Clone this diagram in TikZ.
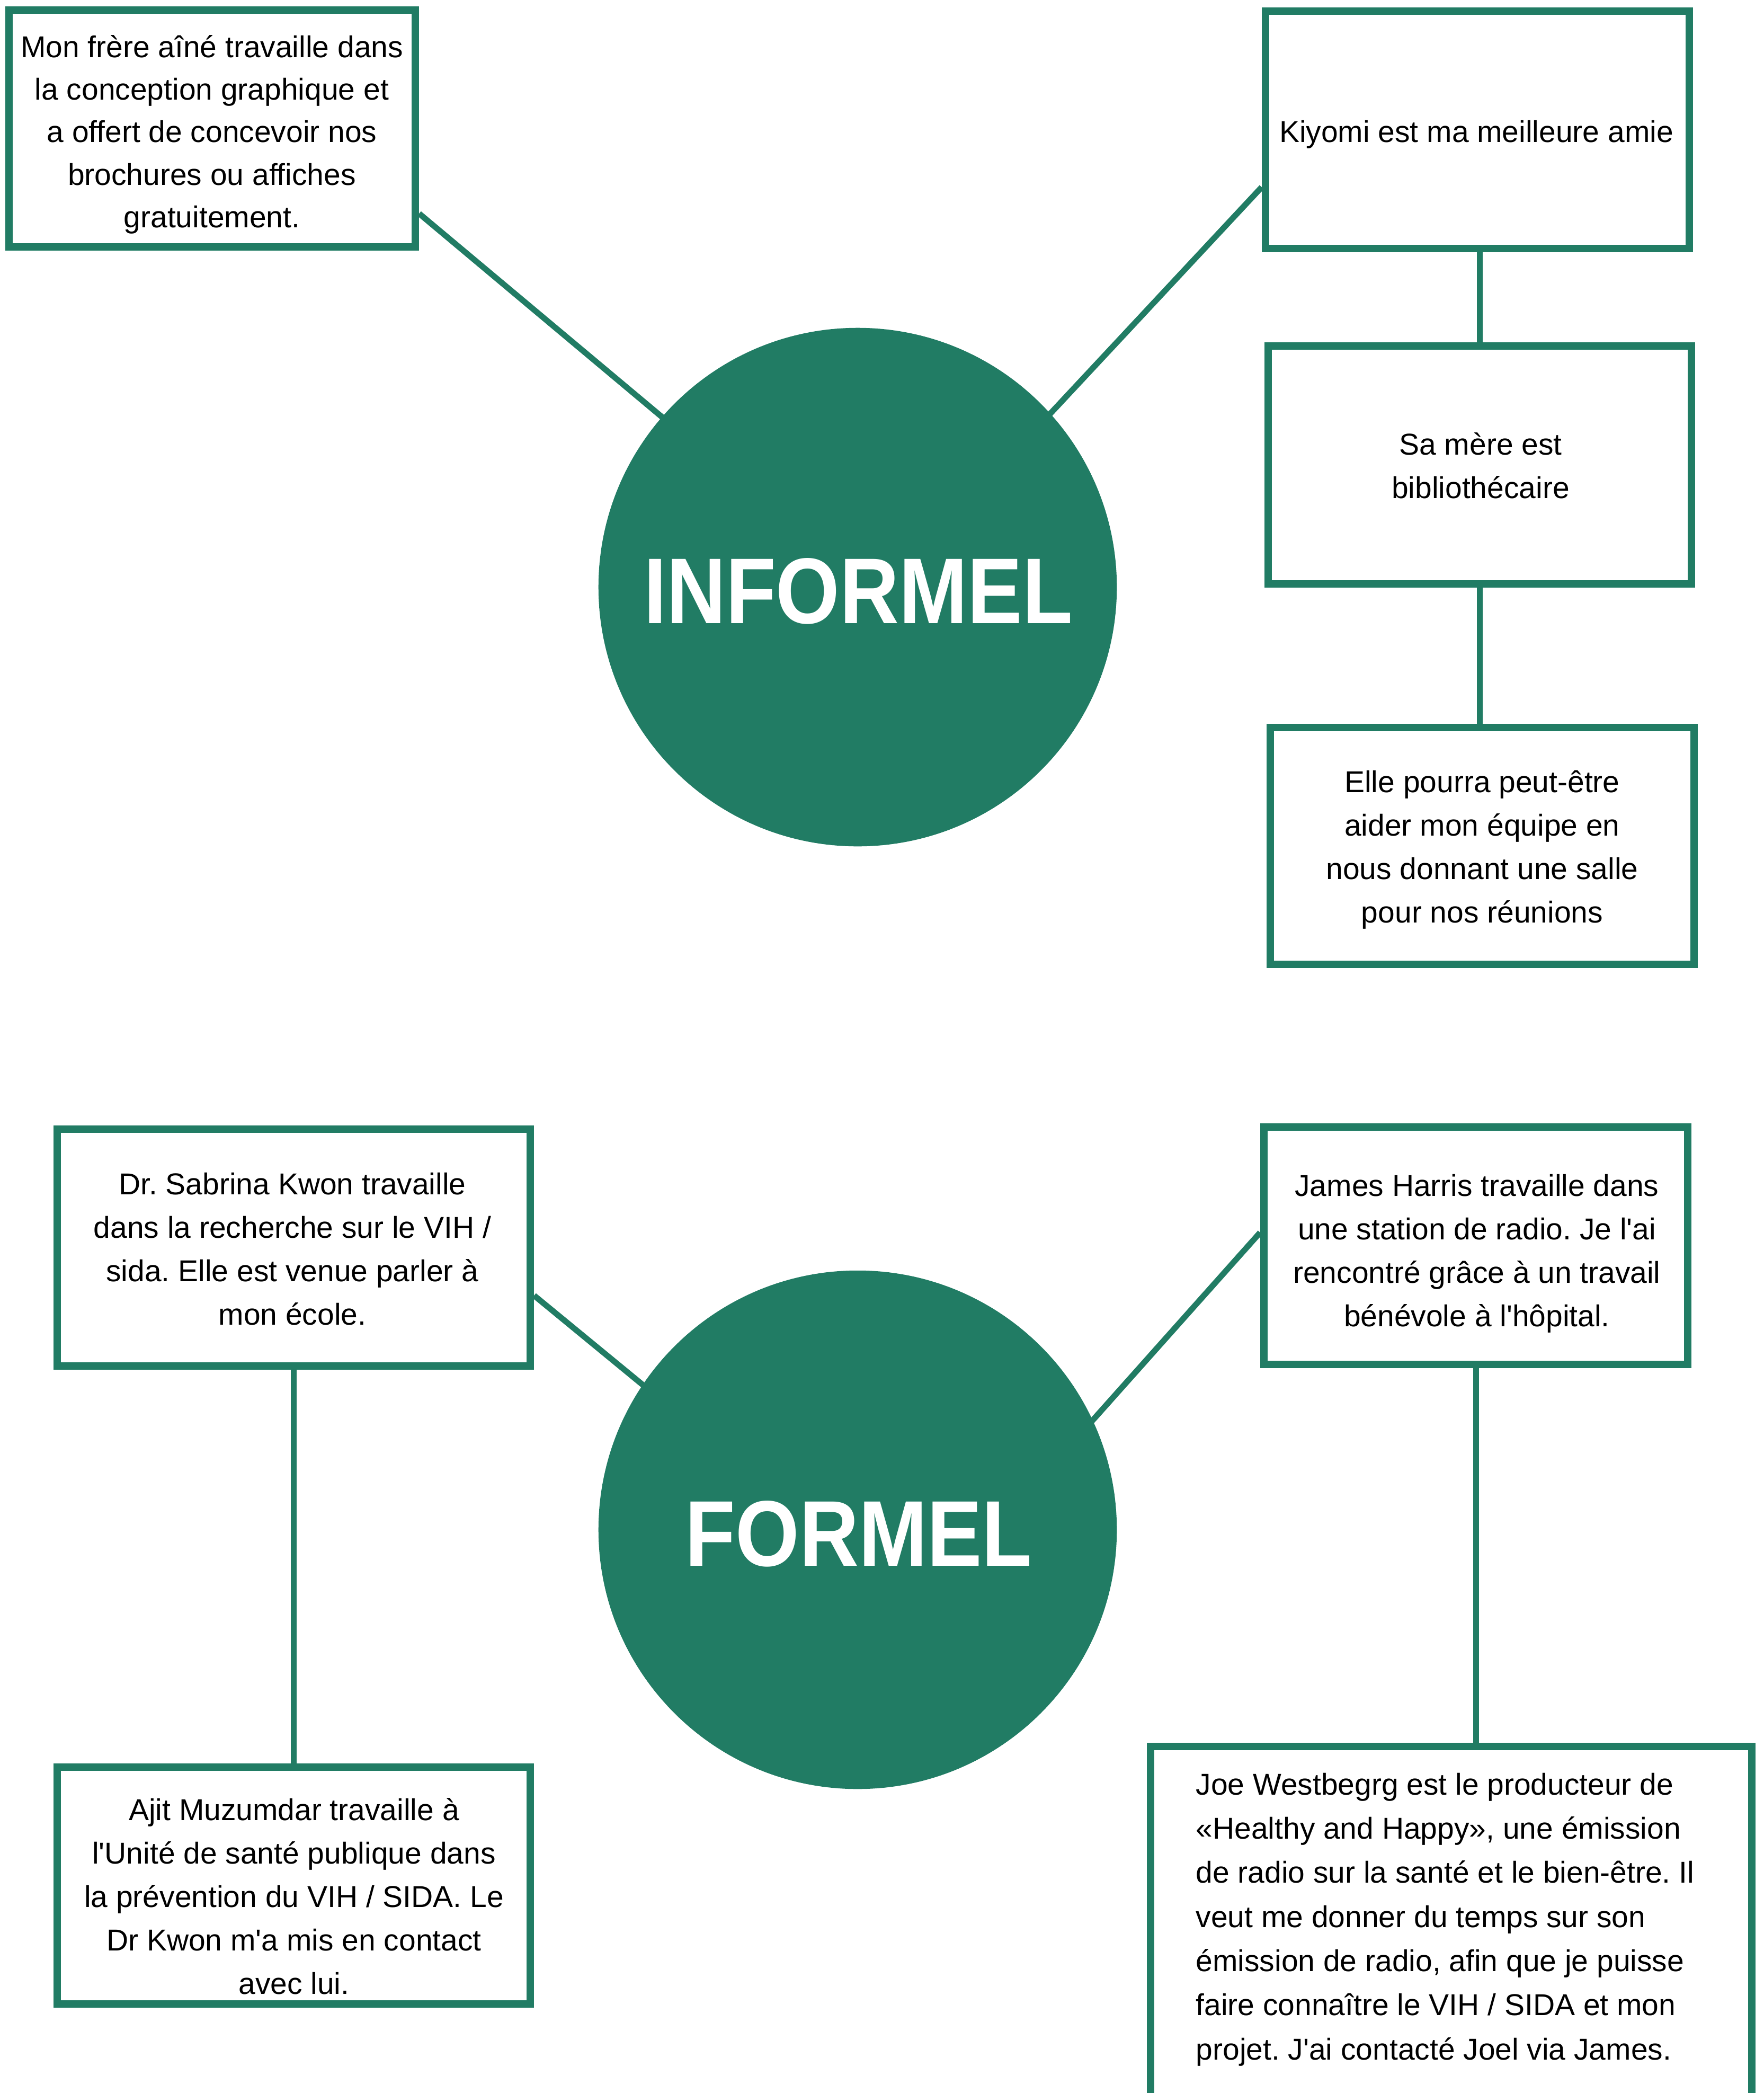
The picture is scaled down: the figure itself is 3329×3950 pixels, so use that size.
\documentclass[tikz,border=0pt]{standalone}
\usepackage{fontspec}
\setmainfont{Liberation Sans}
\usepackage{graphicx}
\usetikzlibrary{calc,backgrounds}
\definecolor{grn}{HTML}{217C64}
\newcommand\bodyfont{\fontsize{16.2pt}{0.82cm}\selectfont}
\newcommand\ap{\textquotesingle}
\frenchspacing
\begin{document}
\begin{tikzpicture}[x=0.01cm,y=-0.01cm,
  box/.style={draw=grn,line width=0.14cm,fill=white,rectangle,inner sep=0pt},
  link/.style={draw=grn,line width=0.11cm},
  txt/.style={inner sep=0pt,align=center,font=\bodyfont,execute at begin node=\strut,execute at end node=\strut},
  hub/.style={circle,fill=grn,inner sep=0pt,minimum size=9.78cm},
  title/.style={inner sep=0pt,text=white,font=\fontsize{50.1pt}{60pt}\selectfont\bfseries}]
\useasboundingbox (0,0) rectangle (3329,3950);
\clip (0,0) rectangle (3329,3950);

% hubs
\node[hub] (c1) at (1619,1108) {};
\node[title] (n1) at (1620,1116) {\scalebox{0.88}[1]{INFORMEL}};
\node[hub] (c2) at (1619,2887) {};
\node[title] (n2) at (1621,2895) {\scalebox{0.88}[1]{FORMEL}};

% informal boxes
\node[box,minimum width=7.67cm,minimum height=4.47cm] (b1) at (400.5,242.5) {};
\node[txt,font=\fontsize{16.2pt}{0.80cm}\selectfont] (t1) at (400,260) {Mon frère aîné travaille dans\\la conception graphique et\\a offert de concevoir nos\\brochures ou affiches\\gratuitement.};

\node[box,minimum width=8.00cm,minimum height=4.48cm] (b2) at (2789,245) {};
\node[txt] (t2) at (2787,252) {Kiyomi est ma meilleure amie};

\node[box,minimum width=7.99cm,minimum height=4.49cm] (b3) at (2793.5,877.5) {};
\node[txt] (t3) at (2795,891) {Sa mère est\\bibliothécaire};

\node[box,minimum width=8.00cm,minimum height=4.47cm] (b4) at (2798,1596.5) {};
\node[txt] (t4) at (2798,1610) {Elle pourra peut-être\\aider mon équipe en\\nous donnant une salle\\pour nos réunions};

% formal boxes
\node[box,minimum width=8.93cm,minimum height=4.47cm] (b5) at (554.5,2354.5) {};
\node[txt] (t5) at (552,2369) {Dr. Sabrina Kwon travaille\\dans la recherche sur le VIH /\\sida. Elle est venue parler à\\mon école.};

\node[box,minimum width=8.00cm,minimum height=4.48cm] (b6) at (2786,2351) {};
\node[txt] (t6) at (2788,2372) {James Harris travaille dans\\une station de radio. Je l\ap ai\\rencontré grâce à un travail\\bénévole à l\ap hôpital.};

\node[box,minimum width=8.93cm,minimum height=4.47cm] (b7) at (554.5,3558.5) {};
\node[txt] (t7) at (555,3591) {Ajit Muzumdar travaille à\\l\ap Unité de santé publique dans\\la prévention du VIH / SIDA. Le\\Dr Kwon m\ap a mis en contact\\avec lui.};

\node[box,minimum width=11.35cm,minimum height=7.04cm] (b8) at (2739.5,3648) {};
\node[txt,align=left,anchor=west,font=\fontsize{16.2pt}{0.833cm}\selectfont] (t8) at (2257,3629) {Joe Westbegrg est le producteur de\\«Healthy and Happy», une émission\\de radio sur la santé et le bien-être. Il\\veut me donner du temps sur son\\émission de radio, afin que je puisse\\faire connaître le VIH / SIDA et mon\\projet. J\ap ai contacté Joel via James.};

% connectors
\begin{scope}[on background layer]
\fill[white] (0,0) rectangle (3329,3950);
\draw[link,shorten >=-0.08cm] ($(b1.north east)!0.848!(b1.south east)$) -- (c1.139);
\draw[link,shorten >=-0.08cm] ($(b2.north west)!0.734!(b2.south west)$) -- (c1.42);
\draw[link] (b3.north |- b2.south) -- (b3.north);
\draw[link] (b3.south) -- (b3.south |- b4.north);
\draw[link,shorten >=-0.08cm] ($(b5.north east)!0.696!(b5.south east)$) -- (c2.146);
\draw[link] (b5.south) -- (b5.south |- b7.north);
\draw[link,shorten >=-0.08cm] ($(b6.north west)!0.446!(b6.south west)$) -- (c2.25.5);
\draw[link] (b6.south) -- (b6.south |- b8.north);
\end{scope}
\end{tikzpicture}
\end{document}
